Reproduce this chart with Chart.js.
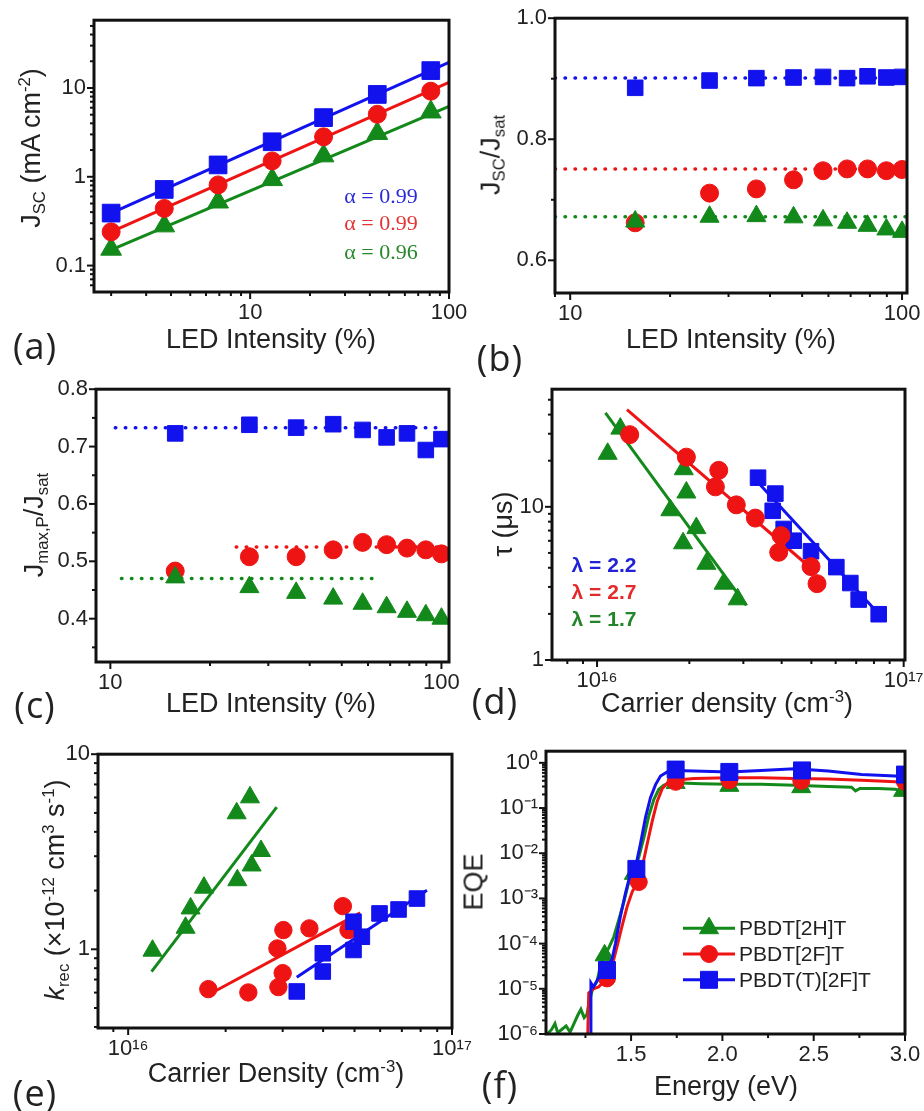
<!DOCTYPE html>
<html>
<head>
<meta charset="utf-8">
<script src="https://cdn.jsdelivr.net/npm/chart.js@4.4.1/dist/chart.umd.min.js"></script>
<style>
  html, body { margin: 0; padding: 0; background: #fff; }
  #page { position: relative; width: 924px; height: 1111px; overflow: hidden; background: #fff;
          font-family: 'Liberation Sans', Arial, sans-serif; color: #222; }
  canvas { position: absolute; }
  .lbl { position: absolute; white-space: nowrap; line-height: 1; transform: translate(-50%, -50%); z-index: 5; }
  .rot { transform: translate(-50%, -50%) rotate(-90deg); }
  .title { font-size: 27px; }
  .sb { font-size: 0.62em; vertical-align: -0.3em; }
  .sp { font-size: 0.62em; vertical-align: 0.6em; }
  .tag { font-family: 'Open Sans', sans-serif; font-size: 36px; letter-spacing: 1px; }
  .alpha { font-family: 'Liberation Serif', serif; font-size: 22px; }
  .lam { font-size: 21px; font-weight: bold; }
</style>
</head>
<body>
<div id="page"></div>
<script>
const BLUE = '#1212ee', RED = '#ee1414', GREEN = '#12891a';
const INK = '#222';
const FONT = 'Liberation Sans';

// (a) Jsc vs LED intensity
const ledA = [2.0, 3.7, 6.9, 12.9, 23.4, 43.6, 81];
const jscBlueA = [0.39, 0.72, 1.36, 2.48, 4.64, 8.46, 15.7];
const jscRedA = [0.24, 0.44, 0.81, 1.51, 2.82, 5.06, 9.2];
const jscGreenA = [0.153, 0.28, 0.52, 0.93, 1.72, 3.08, 5.37];
const fitXA = [2.0, 100];
const fitBlueA = [0.39, 19.4];
const fitRedA = [0.24, 11.6];
const fitGreenA = [0.15, 6.2];
const alphaA = ['α = 0.99', 'α = 0.99', 'α = 0.96'];

// (b) Jsc/Jsat
const ledB = [15.7, 26.3, 36.4, 47.1, 57.8, 68.3, 78.7, 89.7, 100];
const ratioBlueB = [0.885, 0.897, 0.901, 0.902, 0.903, 0.901, 0.904, 0.902, 0.903];
const ratioRedB = [0.662, 0.711, 0.718, 0.733, 0.748, 0.751, 0.751, 0.748, 0.750];
const ratioGreenB = [0.664, 0.672, 0.673, 0.671, 0.666, 0.662, 0.657, 0.651, 0.647];
const satXB = [9, 103.5];
const satBlueB = [0.901, 0.901];
const satRedB = [0.751, 0.751];
const satGreenB = [0.672, 0.672];

// (c) Jmax,P/Jsat
const mppBlueC = [0.723, 0.738, 0.733, 0.739, 0.729, 0.716, 0.723, 0.694, 0.713];
const mppRedC = [0.483, 0.508, 0.508, 0.520, 0.533, 0.529, 0.523, 0.520, 0.513];
const mppGreenC = [0.472, 0.455, 0.445, 0.435, 0.426, 0.420, 0.412, 0.406, 0.400];
const satBlueXC = [10.35, 101];
const satBlueC = [0.733, 0.733];
const satRedXC = [24, 103];
const satRedC = [0.525, 0.525];
const satGreenXC = [10.8, 63.7];
const satGreenC = [0.470, 0.470];

// (d) lifetime vs carrier density
const densGreenD = [1.083e16, 1.191e16, 1.918e16, 1.956e16, 1.734e16, 2.108e16, 1.908e16, 2.273e16, 2.588e16, 2.875e16];
const tauGreenD = [22.2, 32.4, 17.6, 12.4, 9.5, 7.26, 5.78, 4.25, 3.15, 2.49];
const densRedD = [1.278e16, 1.956e16, 2.494e16, 2.432e16, 2.846e16, 3.283e16, 3.981e16, 3.912e16, 4.987e16, 5.217e16];
const tauRedD = [29.6, 21.1, 17.3, 13.5, 10.3, 8.44, 6.49, 5.05, 4.07, 3.15];
const densBlueD = [3.35e16, 3.815e16, 3.74e16, 4.061e16, 4.378e16, 4.987e16, 6.031e16, 6.7e16, 7.133e16, 8.29e16];
const tauBlueD = [15.5, 12.2, 9.42, 7.17, 6.01, 5.13, 4.04, 3.18, 2.48, 1.99];
const fitGreenXD = [1.065e16, 3.069e16];
const fitGreenD = [41.0, 2.27];
const fitRedXD = [1.252e16, 5.088e16];
const fitRedD = [43.1, 3.84];
const fitBlueXD = [3.283e16, 8.083e16];
const fitBlueD = [15.1, 2.11];
const lambdaD = ['λ = 2.2', 'λ = 2.7', 'λ = 1.7'];

// (e) recombination rate vs carrier density
const densGreenE = [1.189e16, 1.504e16, 1.559e16, 1.714e16, 2.173e16, 2.163e16, 2.378e16, 2.406e16, 2.572e16];
const krecGreenE = [0.984, 1.29, 1.62, 2.07, 2.26, 4.98, 6.01, 2.69, 3.19];
const densRedE = [1.768e16, 2.35e16, 2.91e16, 3.0e16, 2.89e16, 3.015e16, 3.628e16, 4.602e16, 4.791e16];
const krecRedE = [0.625, 0.601, 0.640, 0.755, 1.01, 1.255, 1.28, 1.664, 1.255];
const densBlueE = [3.316e16, 3.99e16, 3.99e16, 4.965e16, 4.965e16, 5.268e16, 5.973e16, 6.839e16, 7.795e16];
const krecBlueE = [0.608, 0.769, 0.954, 0.992, 1.384, 1.16, 1.527, 1.60, 1.82];
const fitGreenXE = [1.181e16, 2.876e16];
const fitGreenE = [0.769, 5.35];
const fitRedXE = [1.768e16, 5.206e16];
const fitRedE = [0.585, 1.538];
const fitBlueXE = [3.316e16, 8.37e16];
const fitBlueE = [0.72, 2.01];

// (f) EQE spectra
const energyGreenF = [1.041, 1.065, 1.083, 1.098, 1.120, 1.144, 1.166, 1.184, 1.206, 1.225, 1.243, 1.258, 1.272, 1.291, 1.313,
  1.331, 1.353, 1.377, 1.405, 1.432, 1.460, 1.487, 1.515, 1.542, 1.570, 1.597, 1.625, 1.652, 1.680, 1.717,
  1.772, 1.882, 2.038, 2.212, 2.395, 2.579, 2.707, 2.729, 2.753, 2.854, 2.946, 3.0];
const eqeGreenF = [1.0e-6, 1.26e-6, 1.7e-6, 1.07e-6, 1.26e-6, 1.5e-6, 1.1e-6, 1.6e-6, 2.5e-6, 3.5e-6, 2.3e-6, 2.7e-6, 5.4e-6, 1.05e-5, 1.45e-5,
  3.1e-5, 5.6e-5, 7.9e-5, 1.4e-4, 3.3e-4, 8.3e-4, 2.3e-3, 3.8e-3, 8.1e-3, 0.022, 0.067, 0.156, 0.26, 0.32, 0.36,
  0.36, 0.345, 0.334, 0.334, 0.32, 0.30, 0.29, 0.24, 0.27, 0.27, 0.26, 0.23];
const energyRedF = [1.261, 1.268, 1.294, 1.322, 1.350, 1.377, 1.395, 1.423, 1.450, 1.478, 1.506, 1.533, 1.561, 1.588,
  1.616, 1.643, 1.671, 1.698, 1.735, 1.845, 2.038, 2.212, 2.395, 2.579, 2.762, 2.946, 3.0];
const eqeRedF = [5e-7, 8.1e-6, 1.0e-5, 1.1e-5, 1.45e-5, 1.9e-5, 3.1e-5, 8.6e-5, 2.4e-4, 6.5e-4, 1.4e-3, 2.2e-3, 4.9e-3, 0.016,
  0.052, 0.14, 0.27, 0.36, 0.41, 0.45, 0.47, 0.47, 0.45, 0.44, 0.41, 0.38, 0.36];
const energyBlueF = [1.276, 1.280, 1.294, 1.317, 1.340, 1.368, 1.395, 1.414, 1.441, 1.469, 1.496, 1.524, 1.551, 1.579,
  1.606, 1.634, 1.661, 1.698, 1.744, 1.845, 2.038, 2.212, 2.395, 2.579, 2.762, 2.946, 3.0];
const eqeBlueF = [5e-7, 1.35e-5, 1.1e-5, 1.6e-5, 2.6e-5, 3.1e-5, 4.4e-5, 1.0e-4, 3.9e-4, 1.3e-3, 3.5e-3, 4.9e-3, 0.016, 0.062,
  0.17, 0.33, 0.51, 0.63, 0.68, 0.66, 0.63, 0.68, 0.74, 0.66, 0.55, 0.51, 0.48];
const markEGreenF = [1.355, 1.515, 1.744, 2.038, 2.432, 2.99];
const markQGreenF = [5.5e-5, 3.5e-3, 0.36, 0.31, 0.29, 0.24];
const markERedF = [1.368, 1.542, 1.744, 2.038, 2.432, 3.0];
const markQRedF = [1.7e-5, 2.3e-3, 0.38, 0.41, 0.40, 0.38];
const markEBlueF = [1.368, 1.529, 1.744, 2.038, 2.436, 3.0];
const markQBlueF = [2.6e-5, 4.5e-3, 0.71, 0.63, 0.68, 0.55];
const legendF = ['PBDT[2H]T', 'PBDT[2F]T', 'PBDT(T)[2F]T'];

// tick values
const ledMajor = [10, 100];
const ledMinor = [2, 3, 4, 5, 6, 7, 8, 9, 20, 30, 40, 50, 60, 70, 80, 90];
const jscMajor = [0.1, 1, 10];
const ratioMajorB = [0.6, 0.8, 1.0];
const ratioMinorB = [0.7, 0.9];
const mppMajorC = [0.4, 0.5, 0.6, 0.7, 0.8];
const mppMinorC = [0.35, 0.45, 0.55, 0.65, 0.75];
const densMajor = [1e16, 1e17];
const decadeMajor = [1, 10];
const energyMajor = [1.5, 2.0, 2.5, 3.0];
const energyMinor = [1.25, 1.75, 2.25, 2.75];
const eqeMajor = [1e-6, 1e-5, 1e-4, 1e-3, 1e-2, 1e-1, 1];

function decadeMinors(lo, hi) {
    const out = [];
    for (let e = lo; e <= hi; e++) {
        for (let m = 2; m <= 9; m++) out.push(m * Math.pow(10, e));
    }
    return out;
}

const SUP = { '0': '⁰', '1': '¹', '2': '²', '3': '³', '4': '⁴', '5': '⁵', '6': '⁶', '7': '⁷', '8': '⁸', '9': '⁹', '-': '⁻' };
const fmtPlain = v => String(v);
const fmtOne = v => v.toFixed(1);
const fmtPow = v => '10' + String(Math.round(Math.log10(v))).split('').map(c => SUP[c]).join('');

const page = document.getElementById('page');

function pts(xs, ys) {
    return xs.map((x, i) => ({ x: x, y: ys[i] }));
}

function markers(xs, ys, color, style, r) {
    return {
        data: pts(xs, ys), showLine: false, pointStyle: style, pointRadius: r, pointHoverRadius: r,
        backgroundColor: color, borderColor: color, pointBorderWidth: 1
    };
}

function line(xs, ys, color, dotted) {
    return {
        data: pts(xs, ys), showLine: true, pointRadius: 0, pointHoverRadius: 0, fill: false, tension: 0,
        borderColor: color, borderWidth: dotted ? 3.5 : 3,
        borderDash: dotted ? [0.5, 9.5] : [], borderCapStyle: dotted ? 'round' : 'butt'
    };
}

function axis(pos, type, min, max, major, minor, fmt) {
    return {
        type: type, position: pos, min: min, max: max,
        grid: { display: false, drawTicks: false },
        border: { display: false },
        ticks: {
            autoSkip: false, maxRotation: 0, minRotation: 0, padding: 8,
            color: INK, font: { family: FONT, size: 22 },
            callback: (v, i, ticks) => ticks[i].minor ? '' : fmt(v)
        },
        afterBuildTicks: s => {
            s.ticks = major.map(v => ({ value: v }))
                .concat(minor.map(v => ({ value: v, minor: true })))
                .filter(t => t.value >= min * 0.9999 && t.value <= max * 1.0001)
                .sort((p, q) => p.value - q.value);
        },
        afterFit: s => {
            if (pos === 'left') s.width = 90; else s.height = 40;
        }
    };
}

// box with outward tick marks
const framePlugin = {
    id: 'frame',
    afterDraw(chart) {
        const { ctx, chartArea: a } = chart;
        ctx.save();
        ctx.strokeStyle = '#111';
        ctx.lineWidth = 2;
        Object.values(chart.scales).forEach(s => {
            s.ticks.forEach(t => {
                const p = s.getPixelForValue(t.value);
                const len = t.minor ? 4 : 7;
                ctx.beginPath();
                if (s.axis === 'x') {
                    ctx.moveTo(p, a.bottom); ctx.lineTo(p, a.bottom + len);
                } else {
                    ctx.moveTo(a.left, p); ctx.lineTo(a.left - len, p);
                }
                ctx.stroke();
            });
        });
        ctx.lineWidth = 3;
        ctx.strokeRect(a.left, a.top, a.right - a.left, a.bottom - a.top);
        ctx.restore();
    }
};

const eqeLegend = {
    id: 'eqeLegend',
    afterDatasetsDraw(chart) {
        const { ctx, chartArea: a } = chart;
        const rows = [
            { color: GREEN, style: 'triangle', r: 11 },
            { color: RED, style: 'circle', r: 8.5 },
            { color: BLUE, style: 'rect', r: 12 }
        ];
        ctx.save();
        rows.forEach((row, i) => {
            const y = a.top + 177 + i * 25.8;
            ctx.strokeStyle = row.color;
            ctx.fillStyle = row.color;
            ctx.lineWidth = 3;
            ctx.beginPath();
            ctx.moveTo(a.left + 137, y);
            ctx.lineTo(a.left + 189, y);
            ctx.stroke();
            ctx.lineWidth = 1;
            Chart.helpers.drawPoint(ctx, { pointStyle: row.style, radius: row.r, rotation: 0, borderWidth: 1 }, a.left + 163, y);
            ctx.fillStyle = INK;
            ctx.font = '21px ' + FONT;
            ctx.textBaseline = 'middle';
            ctx.fillText(legendF[i], a.left + 193, y + 1);
        });
        ctx.restore();
    }
};

function makePanel(rect, datasets, xScale, yScale, plugins) {
    const [L, T, R, B] = rect;
    const cv = document.createElement('canvas');
    cv.width = R - L + 120;
    cv.height = B - T + 60;
    cv.style.left = (L - 90) + 'px';
    cv.style.top = (T - 20) + 'px';
    page.appendChild(cv);
    return new Chart(cv, {
        type: 'scatter',
        data: { datasets: datasets },
        options: {
            responsive: false, animation: false, events: [],
            layout: { padding: { left: 0, top: 20, right: 30, bottom: 0 } },
            plugins: { legend: { display: false }, tooltip: { enabled: false } },
            scales: { x: xScale, y: yScale }
        },
        plugins: [framePlugin].concat(plugins || [])
    });
}

function text(html, x, y, cls, color) {
    const d = document.createElement('div');
    d.className = 'lbl ' + cls;
    d.innerHTML = html;
    d.style.left = x + 'px';
    d.style.top = y + 'px';
    if (color) d.style.color = color;
    page.appendChild(d);
}

// (a)
makePanel([94, 19, 449, 292], [
    markers(ledA, jscBlueA, BLUE, 'rect', 12.5),
    markers(ledA, jscRedA, RED, 'circle', 9),
    markers(ledA, jscGreenA, GREEN, 'triangle', 12),
    line(fitXA, fitBlueA, BLUE),
    line(fitXA, fitRedA, RED),
    line(fitXA, fitGreenA, GREEN)
], axis('bottom', 'logarithmic', 1.64, 100, ledMajor, ledMinor, fmtPlain),
   axis('left', 'logarithmic', 0.0504, 58, jscMajor, decadeMinors(-2, 1), fmtPlain));

// (b)
makePanel([555, 17, 907, 293], [
    markers(ledB, ratioBlueB, BLUE, 'rect', 11),
    markers(ledB, ratioGreenB, GREEN, 'triangle', 11),
    markers(ledB, ratioRedB, RED, 'circle', 9),
    line(satXB, satBlueB, BLUE, true),
    line(satXB, satRedB, RED, true),
    line(satXB, satGreenB, GREEN, true)
], axis('bottom', 'logarithmic', 9.0, 103.5, ledMajor, ledMinor, fmtPlain),
   axis('left', 'linear', 0.546, 1.0, ratioMajorB, ratioMinorB, fmtOne));

// (c)
makePanel([96, 388, 449, 662], [
    markers(ledB, mppBlueC, BLUE, 'rect', 11),
    markers(ledB, mppGreenC, GREEN, 'triangle', 11),
    markers(ledB, mppRedC, RED, 'circle', 9),
    line(satBlueXC, satBlueC, BLUE, true),
    line(satRedXC, satRedC, RED, true),
    line(satGreenXC, satGreenC, GREEN, true)
], axis('bottom', 'logarithmic', 9.05, 105.4, ledMajor, ledMinor, fmtPlain),
   axis('left', 'linear', 0.3245, 0.8, mppMajorC, mppMinorC, fmtOne));

// (d)
makePanel([552, 388, 905, 660], [
    markers(densRedD, tauRedD, RED, 'circle', 9),
    markers(densBlueD, tauBlueD, BLUE, 'rect', 11),
    markers(densGreenD, tauGreenD, GREEN, 'triangle', 11),
    line(fitRedXD, fitRedD, RED),
    line(fitBlueXD, fitBlueD, BLUE),
    line(fitGreenXD, fitGreenD, GREEN)
], axis('bottom', 'logarithmic', 7.13e15, 1.01e17, densMajor, decadeMinors(15, 16), fmtPow),
   axis('left', 'logarithmic', 1, 58.6, decadeMajor, decadeMinors(0, 1), fmtPlain));

// (e)
makePanel([98, 753, 452, 1028], [
    markers(densBlueE, krecBlueE, BLUE, 'rect', 11),
    markers(densRedE, krecRedE, RED, 'circle', 8.7),
    markers(densGreenE, krecGreenE, GREEN, 'triangle', 11),
    line(fitBlueXE, fitBlueE, BLUE),
    line(fitRedXE, fitRedE, RED),
    line(fitGreenXE, fitGreenE, GREEN)
], axis('bottom', 'logarithmic', 8.07e15, 1e17, densMajor, decadeMinors(15, 16), fmtPow),
   axis('left', 'logarithmic', 0.395, 10, decadeMajor, decadeMinors(-1, 0), fmtPlain));

// (f)
makePanel([546, 750, 905, 1034], [
    markers(markEBlueF, markQBlueF, BLUE, 'rect', 12),
    line(energyBlueF, eqeBlueF, BLUE),
    markers(markERedF, markQRedF, RED, 'circle', 8.5),
    line(energyRedF, eqeRedF, RED),
    markers(markEGreenF, markQGreenF, GREEN, 'triangle', 11),
    line(energyGreenF, eqeGreenF, GREEN)
], axis('bottom', 'linear', 1.034, 3.0, energyMajor, energyMinor, fmtOne),
   axis('left', 'logarithmic', 1e-6, 1.81, eqeMajor, decadeMinors(-6, -1), fmtPow),
   [eqeLegend]);

// axis titles
text('LED Intensity (%)', 271, 339, 'title');
text('J<span class="sb">SC</span> (mA cm<span class="sp">-2</span>)', 33, 148, 'title rot');
text('LED Intensity (%)', 731, 339, 'title');
text('J<span class="sb">SC</span>/J<span class="sb">sat</span>', 493, 155, 'title rot');
text('LED Intensity (%)', 271, 703, 'title');
text('J<span class="sb">max,P</span>/J<span class="sb">sat</span>', 36, 525, 'title rot');
text('Carrier density (cm<span class="sp">-3</span>)', 727, 703, 'title');
text('τ (μs)', 503, 524, 'title rot');
text('Carrier Density (cm<span class="sp">-3</span>)', 276, 1073, 'title');
text('<i>k</i><span class="sb">rec</span> (×10<span class="sp">-12</span> cm<span class="sp">3</span> s<span class="sp">-1</span>)', 57, 890, 'title rot');
text('Energy (eV)', 726, 1086, 'title');
text('EQE', 474, 882, 'title rot');

// panel tags
text('(a)', 35, 346, 'tag');
text('(b)', 500, 358, 'tag');
text('(c)', 35, 705, 'tag');
text('(d)', 495, 701, 'tag');
text('(e)', 35, 1093, 'tag');
text('(f)', 500, 1085, 'tag');

// fit annotations
text(alphaA[0], 381, 196, 'alpha', '#2b2bd6');
text(alphaA[1], 381, 223, 'alpha', '#e23434');
text(alphaA[2], 381, 252, 'alpha', '#26882a');
text(lambdaD[0], 604, 564, 'lam', '#2222d8');
text(lambdaD[1], 604, 591, 'lam', '#e42a2a');
text(lambdaD[2], 604, 618, 'lam', '#22852a');
</script>
</body>
</html>
